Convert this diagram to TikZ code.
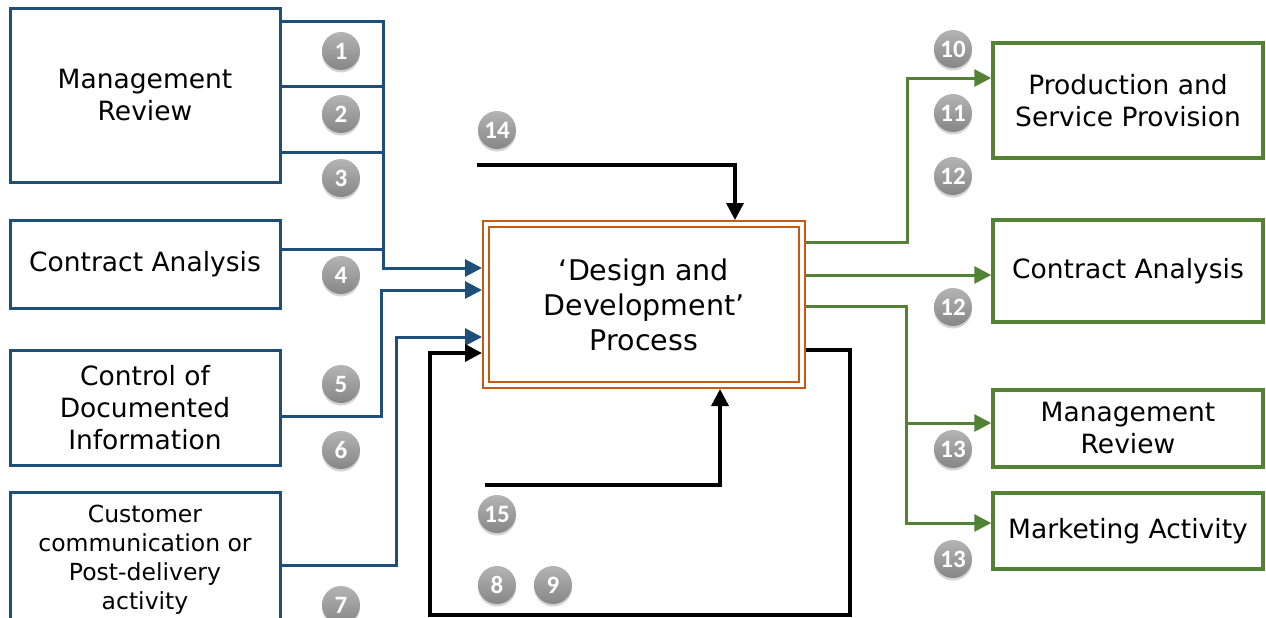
\documentclass[tikz,border=0pt]{standalone}
\usepackage{fontspec}
\setmainfont{DejaVu Sans}
\newfontfamily\numfont{Carlito}
\usetikzlibrary{arrows.meta,shadows}
\definecolor{bluel}{HTML}{1F4E79}
\definecolor{greenl}{HTML}{548235}
\definecolor{orangel}{HTML}{C55A11}
\definecolor{numtop}{HTML}{B4B4B4}
\definecolor{numbot}{HTML}{868686}
\begin{document}
\begin{tikzpicture}[x=1pt,y=-1pt,
  lbox/.style={draw=bluel,line width=3pt,minimum width=270pt,align=center,inner sep=0pt,
    font=\fontsize{26.5}{32}\selectfont},
  rbox/.style={draw=greenl,line width=3.5pt,minimum width=270pt,align=center,inner sep=0pt,
    font=\fontsize{26.5}{32}\selectfont},
  bl/.style={draw=bluel,line width=3pt},
  gl/.style={draw=greenl,line width=3pt},
  kl/.style={draw=black,line width=3.5pt},
  tip/.style={-{Triangle[length=17pt,width=17pt]}},
  num/.style={circle,minimum size=38pt,inner sep=0pt,top color=numtop,bottom color=numbot,
    draw=none,text=white,font=\numfont\bfseries\fontsize{25}{25}\selectfont,
    drop shadow={opacity=0.35,shadow xshift=0pt,shadow yshift=-2.5pt}}
]
\useasboundingbox (0,0) rectangle (1266,618);

% left boxes
\node[lbox,minimum height=173pt] (lmr) at (145,95.5) {Management\\Review};
\node[lbox,minimum height=88pt] (lca) at (145,264) {Contract Analysis};
\node[lbox,minimum height=115pt] (lcd) at (145,407.5) {Control of\\Documented\\Information};
\node[lbox,minimum height=150pt] (lcc) at (145,567) {};
\node[align=center,font=\fontsize{23.5}{29}\selectfont] (lcct) at (145,559.5) {Customer\\communication or\\Post-delivery\\activity};

% centre box
\node[draw=orangel,line width=2.2pt,double=white,double distance=3.5pt,minimum width=316pt,
  minimum height=161pt,align=center,outer sep=4pt,font=\fontsize{28.5}{35}\selectfont] (cp) at (644,304.5)
  {‘Design and\\Development’\\Process};

% right boxes
\node[rbox,minimum height=115pt] (rpsp) at (1128,100.5) {Production and\\Service Provision};
\node[rbox,minimum height=102pt] (rca) at (1128,271) {Contract Analysis};
\node[rbox,minimum height=77pt] (rmr) at (1128,428.5) {Management\\Review};
\node[rbox,minimum height=76pt] (rma) at (1128,531) {Marketing Activity};

% blue connectors
\draw[bl,tip] (lmr.east |- 0,22) -- (383,22) |- (cp.west |- 0,268);
\draw[bl] (lmr.east |- 0,86) -- (383,86);
\draw[bl] (lmr.east |- 0,152) -- (383,152);
\draw[bl] (lca.east |- 0,249) -- (383,249);
\draw[bl,tip] (lcd.east |- 0,416) -- (381,416) |- (cp.west |- 0,290);
\draw[bl,tip] (lcc.east |- 0,565) -- (396,565) |- (cp.west |- 0,337);

% black connectors
\coordinate (s14) at (477,165);
\coordinate (s15) at (485,485);
\draw[kl,tip] (s14) -| ([xshift=91pt]cp.north);
\draw[kl,tip] (s15) -| ([xshift=76pt]cp.south);
\draw[kl,tip] (cp.east |- 0,350) -- (850,350) -- (850,615) -- (430,615) |- (cp.west |- 0,353);

% green connectors
\draw[gl,tip] (cp.east |- 0,242) -- (907,242) |- (rpsp.west |- 0,78);
\draw[gl,tip] (cp.east |- 0,275) -- (rca.west |- 0,275);
\draw[gl,tip] (cp.east |- 0,306) -- (906,306) |- (rma.west |- 0,523);
\draw[gl,tip] (906,423) -- (rmr.west |- 0,423);

% numbers
\node[num] (n1) at (341,51) {1};
\node[num] (n2) at (341,114) {2};
\node[num] (n3) at (341,178) {3};
\node[num] (n4) at (341,275) {4};
\node[num] (n5) at (341,384) {5};
\node[num] (n6) at (341,450) {6};
\node[num] (n7) at (341,605) {7};
\node[num] (n8) at (497,585) {8};
\node[num] (n9) at (553,585) {9};
\node[num] (n10) at (953,49) {10};
\node[num] (n11) at (953,113) {11};
\node[num] (n12a) at (953,176) {12};
\node[num] (n12b) at (953,307) {12};
\node[num] (n13a) at (953,449) {13};
\node[num] (n13b) at (953,559) {13};
\node[num] (n14) at (497,130) {14};
\node[num] (n15) at (497,514) {15};
\end{tikzpicture}
\end{document}
